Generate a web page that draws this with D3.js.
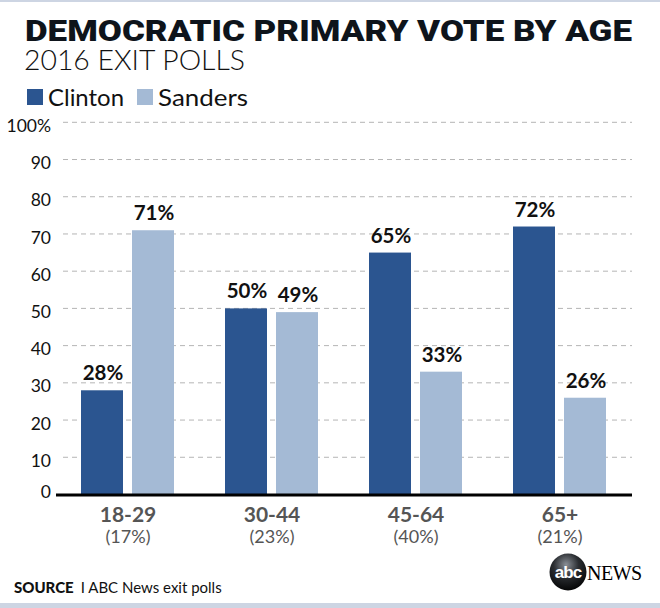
<!DOCTYPE html>
<html><head><meta charset="utf-8">
<script src="https://cdn.jsdelivr.net/npm/d3@7"></script>
<style>body{margin:0;background:#fff}svg{display:block}</style>
</head><body>
<script>
const categories = ["18-29","30-44","45-64","65+"];
const shares = ["(17%)","(23%)","(40%)","(21%)"];
const series = ["Clinton","Sanders"];
const clinton = [28,50,65,72];
const sanders = [71,49,33,26];
const yTicks = [0,10,20,30,40,50,60,70,80,90,100];
const colors = {Clinton:"#2b5590", Sanders:"#a4bad5"};

const W=660,H=608;
const svg=d3.select("body").append("svg").attr("width",W).attr("height",H);
svg.append("rect").attr("width",W).attr("height",H).attr("fill","#fff");
svg.append("rect").attr("x",0).attr("y",0).attr("width",W).attr("height",2).attr("fill","#cdd5e3");
svg.append("rect").attr("x",0).attr("y",603).attr("width",W).attr("height",5).attr("fill","#cdd5e3");

function fit(sel,w){ sel.attr("textLength",w).attr("lengthAdjust","spacingAndGlyphs"); return sel; }

// Title
fit(svg.append("text").attr("x",25).attr("y",41).text("DEMOCRATIC PRIMARY VOTE BY AGE")
  .attr("font-family","Roboto").attr("font-weight",900).attr("font-size",29).attr("fill","#0e141b"),607);
fit(svg.append("text").attr("x",24).attr("y",70).text("2016 EXIT POLLS")
  .attr("font-family","Lato").attr("font-weight",300).attr("font-size",27.5).attr("fill","#111"),221);

// Legend
const leg=[{n:"Clinton",x:27,w:76},{n:"Sanders",x:137,w:90}];
leg.forEach(l=>{
  svg.append("rect").attr("x",l.x).attr("y",89).attr("width",16).attr("height",16).attr("fill",colors[l.n]);
  fit(svg.append("text").attr("x",l.x+21).attr("y",106).text(l.n).attr("font-family","Lato")
    .attr("font-size",22.5).attr("fill","#111"),l.w);
});

const x=d3.scaleBand().domain(categories).range([56,632]).padding(0);
const xi=d3.scaleBand().domain(series).range([25,118]).paddingInner(9/51).paddingOuter(0);
const y=d3.scaleLinear().domain([0,100]).range([494.5,122.3]);

// gridlines
svg.append("g").selectAll("line").data(yTicks.filter(d=>d>0)).join("line")
  .attr("x1",63).attr("x2",632).attr("y1",d=>y(d)).attr("y2",d=>y(d))
  .attr("stroke","#b5b5b5").attr("stroke-width",1).attr("stroke-dasharray","5,4");
// y labels
svg.append("g").selectAll("text").data(yTicks).join("text")
  .attr("x",51).attr("y",d=>y(d)+(d===0?-3:3.5)).attr("dy","0.35em").attr("text-anchor","end")
  .attr("font-family","Lato").attr("font-size",17.5).attr("fill","#111")
  .text(d=>d===100?"100%":d);

// bars
const rows=categories.map((c,i)=>({c,vals:[{s:"Clinton",v:clinton[i]},{s:"Sanders",v:sanders[i]}]}));
const g=svg.append("g").selectAll("g").data(rows).join("g").attr("transform",d=>`translate(${x(d.c)},0)`);
g.selectAll("rect").data(d=>d.vals).join("rect")
  .attr("x",d=>xi(d.s)).attr("width",xi.bandwidth())
  .attr("y",d=>y(d.v)).attr("height",d=>y(0)-y(d.v)).attr("fill",d=>colors[d.s]);
g.selectAll("text").data(d=>d.vals).join("text")
  .attr("x",d=>xi(d.s)+xi.bandwidth()/2+1).attr("y",d=>y(d.v)-10)
  .attr("text-anchor","middle").attr("font-family","Lato").attr("font-weight",700)
  .attr("font-size",20.5).attr("fill","#111").text(d=>d.v+"%");

// baseline
svg.append("line").attr("x1",56).attr("x2",632).attr("y1",495).attr("y2",495)
  .attr("stroke","#000").attr("stroke-width",3);

// x labels
svg.append("g").selectAll("text").data(categories).join("text")
  .attr("x",d=>x(d)+x.bandwidth()/2).attr("y",522).attr("text-anchor","middle")
  .attr("font-family","Lato").attr("font-weight",700).attr("font-size",21).attr("fill","#555").text(d=>d);
svg.append("g").selectAll("text").data(shares).join("text")
  .attr("x",(d,i)=>x(categories[i])+x.bandwidth()/2).attr("y",543).attr("text-anchor","middle")
  .attr("font-family","Lato").attr("font-size",18).attr("fill","#555").text(d=>d);

// source
const src=svg.append("text").attr("x",14).attr("y",593).attr("font-family","Lato").attr("font-size",15).attr("fill","#111");
src.append("tspan").attr("font-weight",900).text("SOURCE");
src.append("tspan").attr("dx",7).text("I  ABC News exit polls");

// ABC News logo
const defs=svg.append("defs");
const rg=defs.append("radialGradient").attr("id","abcg").attr("cx","45%").attr("cy","30%").attr("r","75%");
rg.append("stop").attr("offset","0%").attr("stop-color","#8a8f96");
rg.append("stop").attr("offset","45%").attr("stop-color","#2a2d31");
rg.append("stop").attr("offset","100%").attr("stop-color","#000");
svg.append("circle").attr("cx",568).attr("cy",572).attr("r",18.5).attr("fill","url(#abcg)");
svg.append("text").attr("x",568).attr("y",578).attr("text-anchor","middle").attr("font-family","Arial, Liberation Sans")
  .attr("font-weight",700).attr("font-size",17).attr("letter-spacing",-1).attr("fill","#fff").text("abc");
svg.append("text").attr("x",587).attr("y",580).attr("font-family","Liberation Serif").attr("font-size",20)
  .attr("fill","#000").attr("letter-spacing",-0.5).text("NEWS");
</script>
</body></html>
